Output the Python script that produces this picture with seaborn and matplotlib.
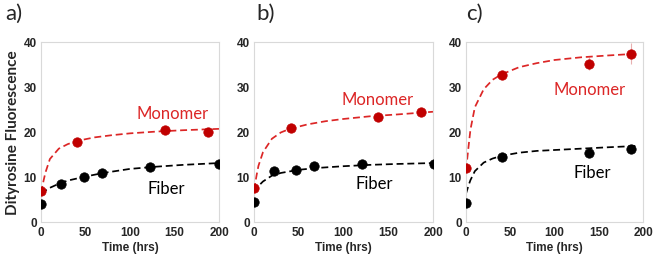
import matplotlib
matplotlib.use("Agg")
import matplotlib.pyplot as plt
import seaborn as sns
import pandas as pd

# ---- data ----
panel_labels = ["a)", "b)", "c)"]

# measured points
mono_t = [[0, 41, 139, 188], [0, 41, 139, 187], [0, 41, 139, 187]]
mono_y = [[6.9, 17.8, 20.5, 20.0], [7.6, 21.0, 23.3, 24.4], [12.1, 32.6, 35.2, 37.4]]
mono_err = [[0, 0, 0, 0], [0, 0, 0, 0], [0, 0, 1.5, 2.3]]

fib_t = [[0, 23, 48, 69, 123, 200], [0, 22, 47, 67, 121, 201], [0, 41, 139, 187]]
fib_y = [[4.1, 8.4, 10.1, 10.8, 12.3, 13.0], [4.5, 11.3, 11.6, 12.4, 12.8, 13.0],
         [4.3, 14.5, 15.3, 16.2]]

# fitted curves
mono_fit_t = [[0, 3, 5, 10, 20, 30, 40, 60, 80, 100, 130, 160, 200],
              [0, 3, 5, 10, 20, 30, 40, 60, 80, 100, 130, 160, 200],
              [0, 3, 5, 10, 20, 30, 40, 60, 80, 100, 130, 160, 193]]
mono_fit_y = [[6.5, 9.3, 11.0, 14.0, 16.3, 17.3, 18.0, 18.8, 19.3, 19.7, 20.1, 20.4, 20.7],
              [7.1, 10.5, 12.5, 15.5, 18.5, 19.9, 20.7, 21.7, 22.4, 22.9, 23.5, 23.9, 24.5],
              [11.5, 17.0, 20.5, 25.5, 29.5, 31.6, 32.8, 34.4, 35.3, 36.0, 36.6, 37.0, 37.4]]
fib_fit_t = [[0, 5, 10, 20, 30, 50, 70, 100, 130, 160, 200],
             [0, 5, 10, 20, 30, 50, 70, 100, 130, 160, 200],
             [0, 3, 5, 10, 20, 30, 40, 60, 80, 100, 130, 160, 193]]
fib_fit_y = [[6.3, 7.0, 7.6, 8.5, 9.2, 10.1, 10.9, 11.8, 12.3, 12.7, 13.1],
             [6.5, 8.0, 9.0, 10.3, 10.9, 11.6, 12.0, 12.4, 12.7, 12.9, 13.1],
             [6.3, 8.2, 9.3, 11.3, 13.2, 14.1, 14.7, 15.4, 15.8, 16.0, 16.3, 16.6, 16.9]]

# text label positions (data coords)
mono_lab_xy = [(148, 24.2), (138, 27.3), (140, 29.5)]
fib_lab_xy = [(141, 7.6), (134, 8.7), (143, 11.0)]

x_ticks = [0, 50, 100, 150, 200]
y_ticks = [0, 10, 20, 30, 40]

sns.set_theme(style="white")
plt.rcParams["font.family"] = ["Liberation Sans", "DejaVu Sans"]

RED_M = "#c00000"
RED_L = "#dc2626"
GRID = "#d9d9d9"

fig = plt.figure(figsize=(6.55, 2.55), dpi=100)
lefts = [41 / 655, 254 / 655, 466 / 655]
widths = [178 / 655, 179 / 655, 177 / 655]
bottom = 1 - 223 / 255
height = 180 / 255
label_x = [5 / 655, 256 / 655, 466 / 655]

for i in range(3):
    ax = fig.add_axes([lefts[i], bottom, widths[i], height])
    dmf = pd.DataFrame({"t": mono_fit_t[i], "y": mono_fit_y[i]})
    dff = pd.DataFrame({"t": fib_fit_t[i], "y": fib_fit_y[i]})
    sns.lineplot(data=dmf, x="t", y="y", ax=ax, color=RED_L, lw=1.25,
                 linestyle=(0, (4, 2.2)), zorder=2)
    sns.lineplot(data=dff, x="t", y="y", ax=ax, color="black", lw=1.25,
                 linestyle=(0, (4, 2.2)), zorder=2)
    if any(mono_err[i]):
        ax.errorbar(mono_t[i], mono_y[i], yerr=mono_err[i], fmt="none",
                    ecolor="#e8b0b0", elinewidth=0.8, zorder=1)
    dm = pd.DataFrame({"t": mono_t[i], "y": mono_y[i]})
    df = pd.DataFrame({"t": fib_t[i], "y": fib_y[i]})
    sns.scatterplot(data=dm, x="t", y="y", ax=ax, color=RED_M, s=46,
                    edgecolor=RED_M, linewidth=0.5, zorder=3)
    sns.scatterplot(data=df, x="t", y="y", ax=ax, color="black", s=46,
                    edgecolor="black", linewidth=0.5, zorder=3)
    ax.text(*mono_lab_xy[i], "Monomer", color=RED_L, ha="center", va="center",
            fontsize=12, family=["Lato", "DejaVu Sans"])
    ax.text(*fib_lab_xy[i], "Fiber", color="black", ha="center", va="center",
            fontsize=12, family=["Lato", "DejaVu Sans"])
    ax.set_xlim(0, 200)
    ax.set_ylim(0, 40)
    ax.set_xticks(x_ticks)
    ax.set_yticks(y_ticks)
    ax.set_xticklabels([str(v) for v in x_ticks], fontweight="bold", fontsize=8.5)
    ax.set_yticklabels([str(v) for v in y_ticks], fontweight="bold", fontsize=8.5)
    ax.tick_params(axis="both", length=0, pad=3)
    for sp in ax.spines.values():
        sp.set_color(GRID)
        sp.set_linewidth(0.8)
    ax.set_xlabel("Time (hrs)", fontweight="bold", fontsize=8.5, labelpad=2)
    ax.set_ylabel("")
    ax.margins(0)
    fig.text(label_x[i], 1 - 14 / 255, panel_labels[i], fontsize=16,
             va="center", ha="left", family=["Lato", "DejaVu Sans"])

fig.text(13 / 655, 1 - 133 / 255, "Dityrosine Fluorescence", rotation=90,
         fontsize=11, fontweight="bold", va="center", ha="center",
         family=["Lato", "DejaVu Sans"])

fig.savefig("out.png", dpi=100)
